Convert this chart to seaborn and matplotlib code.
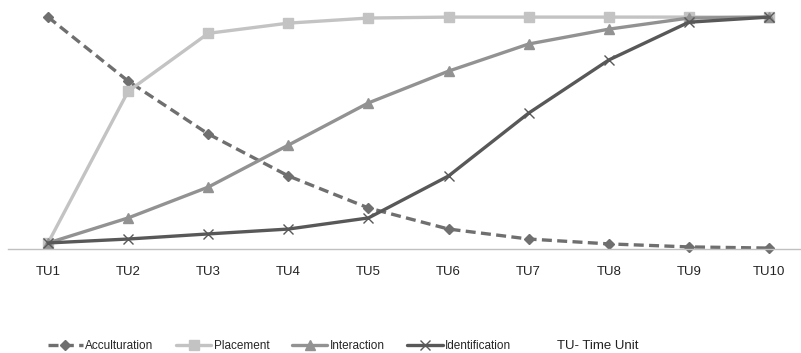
import matplotlib.pyplot as plt
import matplotlib.lines as mlines
import pandas as pd
import seaborn as sns

time_units = ["TU1", "TU2", "TU3", "TU4", "TU5", "TU6", "TU7", "TU8", "TU9", "TU10"]
acculturation = [100, 72.4, 49.6, 31.5, 17.7, 8.6, 4.3, 2.2, 0.9, 0.4]
placement = [2.6, 68, 93, 97.4, 99.6, 100, 100, 100, 100, 100]
interaction = [2.6, 13.4, 26.7, 44.8, 63, 76.7, 88.4, 94.8, 99.6, 100]
identification = [2.6, 4.3, 6.5, 8.6, 13.4, 31.5, 58.6, 81.5, 97.8, 100]
series_names = ["Acculturation", "Placement", "Interaction", "Identification"]
footnote = "TU- Time Unit"

sns.set_style("white")
plt.rcParams["font.family"] = ["Liberation Sans", "DejaVu Sans"]

palette = {
    "Acculturation": "#6f6f6f",
    "Placement": "#c3c3c3",
    "Interaction": "#929292",
    "Identification": "#585858",
}
markers = {"Acculturation": "D", "Placement": "s", "Interaction": "^", "Identification": "x"}
marker_sizes = {"Acculturation": 5.5, "Placement": 7, "Interaction": 7, "Identification": 7}
dashed = {"Acculturation": True, "Placement": False, "Interaction": False, "Identification": False}

fig = plt.figure(figsize=(8.01, 3.53), dpi=100)
ax = fig.add_axes([8 / 801, 1 - 249 / 353, 793 / 801, 237 / 353])

handles = []
for name, values in zip(series_names, [acculturation, placement, interaction, identification]):
    df = pd.DataFrame({"unit": time_units, "value": values})
    style = dict(
        color=palette[name],
        marker=markers[name],
        markersize=marker_sizes[name],
        markeredgecolor=palette[name],
        markeredgewidth=1,
        linewidth=2.4,
    )
    if dashed[name]:
        style["dashes"] = (3, 1.6)
    sns.lineplot(data=df, x="unit", y="value", sort=False, ax=ax, clip_on=False, **style)
    handles.append(mlines.Line2D([], [], **style))

ax.set_xlim(-0.5, 9.4)
ax.set_ylim(0, 102.2)
ax.set_xlabel("")
ax.set_ylabel("")
ax.set_yticks([])
ax.tick_params(axis="x", length=0, labelsize=9.5, pad=12, colors="#222222")
for side in ["top", "right", "left"]:
    ax.spines[side].set_visible(False)
ax.spines["bottom"].set_color("#c0c0c0")
ax.spines["bottom"].set_linewidth(1)

fig.legend(
    handles,
    series_names,
    loc="center left",
    bbox_to_anchor=(37 / 801, 1 - 346 / 353),
    ncol=4,
    frameon=False,
    fontsize=8.5,
    handlelength=3.0,
    handletextpad=0.2,
    columnspacing=1.9,
)
fig.text(557 / 801, 1 - 346 / 353, footnote, fontsize=9.5, color="#222222", va="center", ha="left")

fig.savefig("out.png", dpi=100)
